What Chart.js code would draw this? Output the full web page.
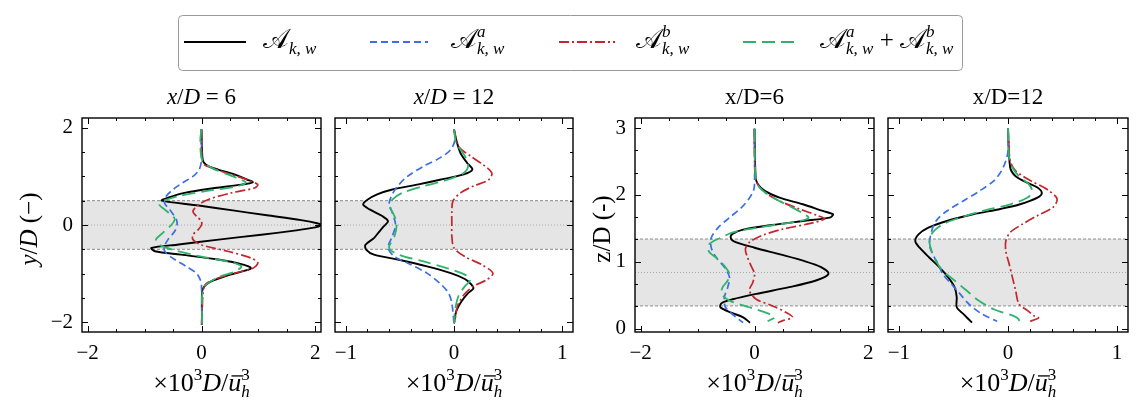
<!DOCTYPE html>
<html><head><meta charset="utf-8">
<script src="https://cdn.jsdelivr.net/npm/chart.js@4.4.1/dist/chart.umd.min.js"></script>
<style>
html,body{margin:0;padding:0;background:#fff;}
#wrap{position:relative;width:1143px;height:414px;overflow:hidden;background:#fff;}
#wrap canvas{position:absolute;left:0;top:0;}
</style></head><body><div id="wrap">
<canvas id="c0" width="1143" height="414"></canvas>
<canvas id="c1" width="1143" height="414"></canvas>
<canvas id="c2" width="1143" height="414"></canvas>
<canvas id="c3" width="1143" height="414"></canvas>
</div>
<script>
// ---------- tick labels ----------
const xTicksWide = [-2, 0, 2];
const xTicksNarrow = [-1, 0, 1];
const yTicksLat = [-2, 0, 2];
const yTicksVert = [0, 1, 2, 3];
// rotor extent and hub position
const rotorY = [-0.5, 0.5];
const hubY = 0;
const rotorZ = [0.34, 1.34];
const hubZ = 0.84;

// ---------- panel 1: x/D = 6, lateral (y/D) ----------
const P1_A_pos = [1.97, 1.35, 1.24, 1.14, 1.04, 0.93, 0.88, 0.83, 0.76, 0.66, 0.56, 0.50, 0.40, 0.30, 0.20, 0.10, 0.03, 0.0, -0.05, -0.12, -0.20, -0.30, -0.40, -0.47, -0.54, -0.61, -0.71, -0.82, -0.89, -0.96, -1.06, -1.16, -1.26, -1.37, -2.05];
const P1_A_val = [0, 0.02, 0.08, 0.29, 0.58, 0.81, 0.90, 0.70, 0.23, -0.30, -0.59, -0.70, -0.05, 0.55, 1.15, 1.75, 2.05, 2.10, 2.0, 1.6, 1.05, 0.3, -0.4, -0.88, -0.82, -0.36, 0.29, 0.75, 0.87, 0.70, 0.40, 0.17, 0.05, 0.01, 0.01];
const P1_Aa_pos = [1.97, 1.35, 1.14, 1.00, 0.87, 0.73, 0.59, 0.45, 0.32, 0.11, 0, -0.13, -0.30, -0.47, -0.58, -0.71, -0.85, -0.99, -1.13, -1.26, -2.05];
const P1_Aa_val = [0, 0, -0.04, -0.15, -0.33, -0.50, -0.62, -0.65, -0.56, -0.44, -0.43, -0.47, -0.59, -0.66, -0.62, -0.47, -0.27, -0.09, -0.02, 0, 0.01];
const P1_Ab_pos = [1.97, 1.28, 1.18, 1.04, 0.93, 0.83, 0.76, 0.66, 0.52, 0.38, 0.28, 0.18, 0.08, 0, -0.10, -0.20, -0.30, -0.41, -0.54, -0.68, -0.78, -0.89, -0.99, -1.13, -1.26, -1.81, -2.05];
const P1_Ab_val = [0, 0.02, 0.17, 0.52, 0.81, 0.99, 0.93, 0.52, 0.11, -0.09, -0.15, -0.09, 0, 0, -0.06, -0.15, -0.15, 0, 0.46, 0.87, 0.99, 0.90, 0.58, 0.20, 0.05, 0.01, 0];
const P1_As_pos = [1.97, 1.76, 1.35, 1.18, 1.04, 0.93, 0.87, 0.80, 0.69, 0.59, 0.49, 0.42, 0.32, 0.18, 0.11, 0, -0.16, -0.30, -0.41, -0.51, -0.65, -0.75, -0.85, -0.96, -1.06, -1.20, -1.33, -2.05];
const P1_As_val = [0, -0.02, 0.01, 0.17, 0.46, 0.70, 0.78, 0.64, 0.05, -0.42, -0.68, -0.74, -0.65, -0.50, -0.47, -0.53, -0.68, -0.80, -0.74, -0.50, 0, 0.46, 0.70, 0.58, 0.32, 0.11, 0.02, 0.01];

// ---------- panel 2: x/D = 12, lateral (y/D) ----------
const P2_A_pos = [1.97, 1.76, 1.48, 1.28, 1.14, 1.04, 0.93, 0.83, 0.73, 0.63, 0.52, 0.42, 0.32, 0.18, 0.08, -0.03, -0.16, -0.27, -0.41, -0.51, -0.61, -0.71, -0.85, -0.99, -1.11, -1.20, -1.30, -1.40, -1.57, -1.78, -2.02];
const P2_A_val = [0, 0.02, 0.06, 0.12, 0.17, 0.09, -0.13, -0.34, -0.57, -0.71, -0.80, -0.84, -0.78, -0.66, -0.61, -0.65, -0.70, -0.74, -0.82, -0.81, -0.74, -0.52, -0.25, -0.03, 0.10, 0.15, 0.18, 0.13, 0.07, 0.02, 0];
const P2_Aa_pos = [1.97, 1.76, 1.55, 1.38, 1.21, 1.00, 0.80, 0.59, 0.42, 0.25, 0, -0.23, -0.47, -0.65, -0.78, -0.99, -1.20, -1.40, -1.61, -2.02];
const P2_Aa_val = [0, 0.01, -0.03, -0.13, -0.28, -0.43, -0.52, -0.58, -0.60, -0.57, -0.54, -0.57, -0.61, -0.55, -0.43, -0.25, -0.13, -0.05, -0.02, 0];
const P2_Ab_pos = [1.97, 1.62, 1.42, 1.24, 1.07, 0.93, 0.80, 0.66, 0.49, 0.25, 0, -0.23, -0.47, -0.65, -0.82, -0.99, -1.13, -1.26, -1.44, -1.68, -1.95, -2.02];
const P2_Ab_val = [0, 0.04, 0.15, 0.27, 0.35, 0.32, 0.18, 0.06, -0.01, -0.02, -0.02, -0.02, 0, 0.10, 0.26, 0.36, 0.30, 0.18, 0.09, 0.03, 0.01, 0];
const P2_As_pos = [1.97, 1.69, 1.42, 1.21, 1.07, 0.93, 0.80, 0.66, 0.52, 0.38, 0.18, 0, -0.23, -0.47, -0.61, -0.75, -0.89, -1.02, -1.13, -1.26, -1.47, -1.75, -2.02];
const P2_As_val = [0, 0.02, 0.10, 0.13, 0.09, -0.06, -0.28, -0.48, -0.57, -0.59, -0.55, -0.53, -0.55, -0.60, -0.51, -0.28, -0.06, 0.10, 0.15, 0.10, 0.04, 0.01, 0];

// ---------- panel 3: x/D = 6, vertical (z/D) ----------
const P3_A_pos = [2.99, 2.26, 2.16, 2.06, 1.96, 1.86, 1.76, 1.71, 1.66, 1.61, 1.55, 1.48, 1.42, 1.37, 1.31, 1.21, 1.11, 1.01, 0.92, 0.82, 0.72, 0.62, 0.52, 0.44, 0.38, 0.32, 0.24, 0.17, 0.09];
const P3_A_val = [0, 0.02, 0.06, 0.18, 0.44, 0.85, 1.20, 1.38, 1.32, 0.85, 0.30, -0.20, -0.38, -0.42, -0.37, 0.0, 0.45, 0.88, 1.17, 1.30, 1.08, 0.61, 0.03, -0.38, -0.58, -0.60, -0.41, -0.20, -0.08];
const P3_Aa_pos = [2.99, 2.16, 2.06, 1.94, 1.81, 1.66, 1.51, 1.36, 1.21, 1.06, 0.92, 0.77, 0.62, 0.47, 0.32, 0.19, 0.09];
const P3_Aa_val = [0, 0, -0.02, -0.10, -0.23, -0.44, -0.64, -0.76, -0.76, -0.67, -0.53, -0.44, -0.47, -0.53, -0.51, -0.35, -0.20];
const P3_Ab_pos = [2.99, 2.66, 2.21, 2.06, 1.91, 1.79, 1.69, 1.64, 1.57, 1.49, 1.39, 1.29, 1.19, 1.06, 0.94, 0.82, 0.69, 0.57, 0.44, 0.34, 0.24, 0.17, 0.12, 0.09];
const P3_Ab_val = [0, 0, 0.03, 0.15, 0.44, 0.79, 1.11, 1.23, 0.96, 0.50, 0.12, -0.09, -0.16, -0.12, -0.06, 0, -0.03, -0.09, 0.03, 0.32, 0.56, 0.67, 0.50, 0.41];
const P3_As_pos = [2.99, 2.26, 2.11, 1.96, 1.81, 1.71, 1.66, 1.61, 1.55, 1.49, 1.43, 1.37, 1.31, 1.24, 1.14, 1.04, 0.94, 0.82, 0.72, 0.62, 0.52, 0.42, 0.32, 0.22, 0.17, 0.11];
const P3_As_val = [0, 0.02, 0.09, 0.32, 0.67, 0.88, 0.95, 0.80, 0.35, -0.10, -0.42, -0.56, -0.72, -0.82, -0.79, -0.64, -0.53, -0.44, -0.47, -0.56, -0.58, -0.44, -0.09, 0.26, 0.35, 0.23];

// ---------- panel 4: x/D = 12, vertical (z/D) ----------
const P4_A_pos = [3.0, 2.41, 2.28, 2.18, 2.11, 2.03, 1.96, 1.86, 1.79, 1.71, 1.61, 1.51, 1.41, 1.31, 1.21, 1.06, 0.92, 0.77, 0.62, 0.47, 0.32, 0.22, 0.09];
const P4_A_val = [0, 0.02, 0.07, 0.18, 0.27, 0.31, 0.27, 0.11, -0.07, -0.32, -0.56, -0.73, -0.82, -0.85, -0.81, -0.72, -0.63, -0.55, -0.49, -0.47, -0.47, -0.41, -0.33];
const P4_Aa_pos = [3.0, 2.66, 2.51, 2.36, 2.21, 2.06, 1.91, 1.76, 1.61, 1.46, 1.26, 1.11, 0.97, 0.82, 0.67, 0.52, 0.37, 0.22, 0.11];
const P4_Aa_val = [0, 0, -0.02, -0.06, -0.13, -0.26, -0.41, -0.56, -0.66, -0.70, -0.72, -0.69, -0.64, -0.60, -0.52, -0.44, -0.36, -0.24, -0.10];
const P4_Ab_pos = [3.0, 2.51, 2.36, 2.21, 2.08, 1.94, 1.81, 1.69, 1.56, 1.44, 1.31, 1.16, 0.97, 0.77, 0.57, 0.37, 0.27, 0.19, 0.16, 0.12, 0.09];
const P4_Ab_val = [0, 0.02, 0.07, 0.21, 0.36, 0.45, 0.41, 0.27, 0.13, 0.02, -0.02, -0.02, 0.01, 0.04, 0.07, 0.10, 0.18, 0.24, 0.28, 0.22, 0.18];
const P4_As_pos = [3.0, 2.56, 2.41, 2.28, 2.16, 2.06, 1.96, 1.86, 1.76, 1.66, 1.56, 1.44, 1.31, 1.16, 1.01, 0.87, 0.72, 0.57, 0.42, 0.29, 0.19, 0.14, 0.10];
const P4_As_val = [0, 0.01, 0.04, 0.10, 0.19, 0.22, 0.18, 0.02, -0.23, -0.44, -0.60, -0.69, -0.72, -0.70, -0.66, -0.60, -0.49, -0.38, -0.27, -0.13, 0.05, 0.10, 0.10];

// ---------- styles ----------
const SERIF = "'Liberation Serif', 'Times New Roman', 'DejaVu Serif', serif";
const STY = [
  {color: '#000000', width: 1.9, dash: []},
  {color: '#3c6ee6', width: 1.7, dash: [7, 4]},
  {color: '#c1272d', width: 1.7, dash: [10, 3, 2, 3]},
  {color: '#2fb36c', width: 1.8, dash: [13, 6]}
];
function fnt(size, it) { return (it ? 'italic ' : '') + size + 'px ' + SERIF; }

function segWidth(ctx, s, base) {
  if (s.stack) return Math.max(...s.stack.map(q => segWidth(ctx, q, base)));
  ctx.font = fnt(s.size || base, s.it);
  return ctx.measureText(s.t).width;
}
function drawSeg(ctx, s, x, y, base) {
  if (s.stack) { s.stack.forEach(q => drawSeg(ctx, q, x, y, base)); return; }
  const size = s.size || base;
  ctx.font = fnt(size, s.it);
  ctx.fillText(s.t, x, y + (s.dy || 0));
  if (s.over) {
    const w = ctx.measureText(s.t).width;
    ctx.save(); ctx.lineWidth = 1.3; ctx.strokeStyle = '#000';
    ctx.beginPath(); ctx.moveTo(x + size * 0.12, y - size * 0.58); ctx.lineTo(x + w + size * 0.08, y - size * 0.58); ctx.stroke();
    ctx.restore();
  }
}
function drawRich(ctx, segs, x, y, base, opts) {
  opts = opts || {};
  const ws = segs.map(s => segWidth(ctx, s, base));
  const total = ws.reduce((a, b) => a + b, 0);
  ctx.save();
  ctx.fillStyle = '#000';
  ctx.textAlign = 'left';
  ctx.textBaseline = 'alphabetic';
  ctx.translate(x, y);
  if (opts.rotate) ctx.rotate(-Math.PI / 2);
  let cx = opts.align === 'left' ? 0 : -total / 2;
  segs.forEach((s, i) => { drawSeg(ctx, s, cx, 0, base); cx += ws[i]; });
  ctx.restore();
  return total;
}

const titleMath6 = [{t: 'x', it: true}, {t: '/'}, {t: 'D', it: true}, {t: ' = 6'}];
const titleMath12 = [{t: 'x', it: true}, {t: '/'}, {t: 'D', it: true}, {t: ' = 12'}];
const titlePlain6 = [{t: 'x/D=6'}];
const titlePlain12 = [{t: 'x/D=12'}];
const yTitleLat = [{t: 'y', it: true}, {t: '/'}, {t: 'D', it: true}, {t: ' (\u2212)'}];
const yTitleVert = [{t: 'z/D (-)'}];
const xTitle = [{t: '\u00d710'}, {t: '3', size: 17, dy: -11}, {t: 'D', it: true}, {t: '/'}, {t: 'u', it: true, over: true},
  {stack: [{t: '3', size: 17, dy: -11}, {t: 'h', size: 17, it: true, dy: 6}]}];

const legendLabels = [
  [{t: '\u{1D49C}', size: 27}, {t: 'k, w', size: 17, it: true, dy: 6}],
  [{t: '\u{1D49C}', size: 27}, {stack: [{t: 'a', size: 17, it: true, dy: -11}, {t: 'k, w', size: 17, it: true, dy: 6}]}],
  [{t: '\u{1D49C}', size: 27}, {stack: [{t: 'b', size: 17, it: true, dy: -11}, {t: 'k, w', size: 17, it: true, dy: 6}]}],
  [{t: '\u{1D49C}', size: 27}, {stack: [{t: 'a', size: 17, it: true, dy: -11}, {t: 'k, w', size: 17, it: true, dy: 6}]},
   {t: ' + ', size: 25}, {t: '\u{1D49C}', size: 27}, {stack: [{t: 'b', size: 17, it: true, dy: -11}, {t: 'k, w', size: 17, it: true, dy: 6}]}]
];

// ---------- plugins ----------
const bandPlugin = {
  id: 'band',
  beforeDatasetsDraw(chart, args, o) {
    const {ctx, chartArea: a, scales: {y}} = chart;
    const y0 = y.getPixelForValue(o.range[1]), y1 = y.getPixelForValue(o.range[0]);
    const yh = y.getPixelForValue(o.hub);
    ctx.save();
    ctx.fillStyle = '#e5e5e5';
    ctx.fillRect(a.left, y0, a.right - a.left, y1 - y0);
    ctx.strokeStyle = '#8c8c8c'; ctx.lineWidth = 1; ctx.setLineDash([3, 2]);
    [y0, y1].forEach(p => { ctx.beginPath(); ctx.moveTo(a.left, p); ctx.lineTo(a.right, p); ctx.stroke(); });
    ctx.strokeStyle = '#a8a8a8'; ctx.setLineDash([1, 2]);
    ctx.beginPath(); ctx.moveTo(a.left, yh); ctx.lineTo(a.right, yh); ctx.stroke();
    ctx.restore();
  }
};
const framePlugin = {
  id: 'frame',
  afterDatasetsDraw(chart, args, o) {
    const {ctx, chartArea: a, scales: {x, y}} = chart;
    ctx.save();
    ctx.strokeStyle = '#000'; ctx.lineWidth = 1; ctx.setLineDash([]);
    const tick = (vals, len, axis) => {
      vals.forEach(v => {
        ctx.beginPath();
        if (axis === 'x') {
          const p = Math.round(x.getPixelForValue(v)) + 0.5;
          ctx.moveTo(p, a.bottom); ctx.lineTo(p, a.bottom - len);
          ctx.moveTo(p, a.top); ctx.lineTo(p, a.top + len);
        } else {
          const p = Math.round(y.getPixelForValue(v)) + 0.5;
          ctx.moveTo(a.left, p); ctx.lineTo(a.left + len, p);
          ctx.moveTo(a.right, p); ctx.lineTo(a.right - len, p);
        }
        ctx.stroke();
      });
    };
    const minors = (min, max, step) => { const r = []; for (let k = Math.ceil(min / step - 1e-9); k * step <= max + 1e-9; k++) r.push(k * step); return r; };
    tick(minors(x.min, x.max, o.xMinor), 3, 'x');
    tick(minors(y.min, y.max, o.yMinor), 3, 'y');
    tick(o.xMajor, 6, 'x');
    tick(o.yMajor, 6, 'y');
    ctx.lineWidth = 1.4;
    ctx.strokeRect(a.left, a.top, a.right - a.left, a.bottom - a.top);
    ctx.restore();
  },
  afterDraw(chart, args, o) {
    const {ctx, chartArea: a} = chart;
    const cx = (a.left + a.right) / 2;
    drawRich(ctx, o.title, cx, 104, 23);
    drawRich(ctx, xTitle, cx, 391, 26);
    if (o.yTitle) drawRich(ctx, o.yTitle, o.yTitleX, (a.top + a.bottom) / 2 + 4, 25, {rotate: true});
    if (o.legend) {
      ctx.save();
      ctx.strokeStyle = '#9a9a9a'; ctx.lineWidth = 1;
      ctx.beginPath(); ctx.roundRect(178.5, 15.5, 784, 55, 4); ctx.stroke();
      const lineX = [[184, 246], [370, 428], [559, 615], [743, 799]];
      const textX = [263, 451, 636, 820];
      STY.forEach((s, i) => {
        ctx.strokeStyle = s.color; ctx.lineWidth = s.width + 0.2; ctx.setLineDash(s.dash);
        ctx.beginPath(); ctx.moveTo(lineX[i][0], 42); ctx.lineTo(lineX[i][1], 42); ctx.stroke();
        drawRich(ctx, legendLabels[i], textX[i], 48, 27, {align: 'left'});
      });
      ctx.restore();
    }
  }
};

const minus = v => String(v).replace('-', '\u2212');

function makePanel(id, p) {
  const series = [
    [p.A_pos, p.A_val], [p.Aa_pos, p.Aa_val], [p.Ab_pos, p.Ab_val], [p.As_pos, p.As_val]
  ];
  const datasets = series.map((s, i) => ({
    data: s[0].map((v, k) => ({x: s[1][k], y: v})),
    showLine: true, borderColor: STY[i].color, borderWidth: STY[i].width, borderDash: STY[i].dash,
    pointRadius: 0, tension: 0.3, fill: false, order: i === 0 ? 4 : 4 - i
  }));
  const YW = 60, XH = 40;
  return new Chart(document.getElementById(id), {
    type: 'scatter',
    data: {datasets},
    options: {
      responsive: false, animation: false, events: [],
      layout: {padding: {left: p.left - YW, right: 1143 - p.right, top: 118, bottom: 414 - 332 - XH}},
      plugins: {
        legend: {display: false}, tooltip: {enabled: false},
        band: {range: p.band, hub: p.hub},
        frame: {xMinor: p.xMinor, yMinor: p.yMinor, xMajor: p.xMajor, yMajor: p.yMajor,
                title: p.title, yTitle: p.yTitle, yTitleX: p.yTitleX, legend: !!p.legend}
      },
      scales: {
        x: {type: 'linear', position: 'bottom', min: p.xMin, max: p.xMax,
            grid: {display: false, drawTicks: false}, border: {display: false},
            ticks: {color: '#000', font: {family: SERIF, size: 21}, padding: 9, callback: minus},
            afterBuildTicks: s => { s.ticks = p.xMajor.map(v => ({value: v})); },
            afterFit: s => { s.height = XH; }},
        y: {type: 'linear', position: 'left', min: p.yMin, max: p.yMax,
            grid: {display: false, drawTicks: false}, border: {display: false},
            ticks: {display: !!p.yTitle, color: '#000', font: {family: SERIF, size: 21}, padding: 9, callback: minus},
            afterBuildTicks: s => { s.ticks = p.yMajor.map(v => ({value: v})); },
            afterFit: s => { s.width = YW; }}
      }
    },
    plugins: [bandPlugin, framePlugin]
  });
}

makePanel('c0', {left: 82, right: 321, xMin: -2.1, xMax: 2.1, yMin: -2.2, yMax: 2.2, xMajor: xTicksWide, yMajor: yTicksLat,
  xMinor: 0.5, yMinor: 0.5, band: rotorY, hub: hubY, title: titleMath6, yTitle: yTitleLat, yTitleX: 37, legend: true,
  A_pos: P1_A_pos, A_val: P1_A_val, Aa_pos: P1_Aa_pos, Aa_val: P1_Aa_val, Ab_pos: P1_Ab_pos, Ab_val: P1_Ab_val, As_pos: P1_As_pos, As_val: P1_As_val});
makePanel('c1', {left: 335, right: 573, xMin: -1.1, xMax: 1.1, yMin: -2.2, yMax: 2.2, xMajor: xTicksNarrow, yMajor: yTicksLat,
  xMinor: 0.2, yMinor: 0.5, band: rotorY, hub: hubY, title: titleMath12,
  A_pos: P2_A_pos, A_val: P2_A_val, Aa_pos: P2_Aa_pos, Aa_val: P2_Aa_val, Ab_pos: P2_Ab_pos, Ab_val: P2_Ab_val, As_pos: P2_As_pos, As_val: P2_As_val});
makePanel('c2', {left: 635, right: 874, xMin: -2.1, xMax: 2.1, yMin: -0.05, yMax: 3.15, xMajor: xTicksWide, yMajor: yTicksVert,
  xMinor: 0.5, yMinor: 1 / 3, band: rotorZ, hub: hubZ, title: titlePlain6, yTitle: yTitleVert, yTitleX: 610,
  A_pos: P3_A_pos, A_val: P3_A_val, Aa_pos: P3_Aa_pos, Aa_val: P3_Aa_val, Ab_pos: P3_Ab_pos, Ab_val: P3_Ab_val, As_pos: P3_As_pos, As_val: P3_As_val});
makePanel('c3', {left: 888, right: 1128, xMin: -1.1, xMax: 1.1, yMin: -0.05, yMax: 3.15, xMajor: xTicksNarrow, yMajor: yTicksVert,
  xMinor: 0.2, yMinor: 1 / 3, band: rotorZ, hub: hubZ, title: titlePlain12,
  A_pos: P4_A_pos, A_val: P4_A_val, Aa_pos: P4_Aa_pos, Aa_val: P4_Aa_val, Ab_pos: P4_Ab_pos, Ab_val: P4_Ab_val, As_pos: P4_As_pos, As_val: P4_As_val});
</script>
</body></html>
